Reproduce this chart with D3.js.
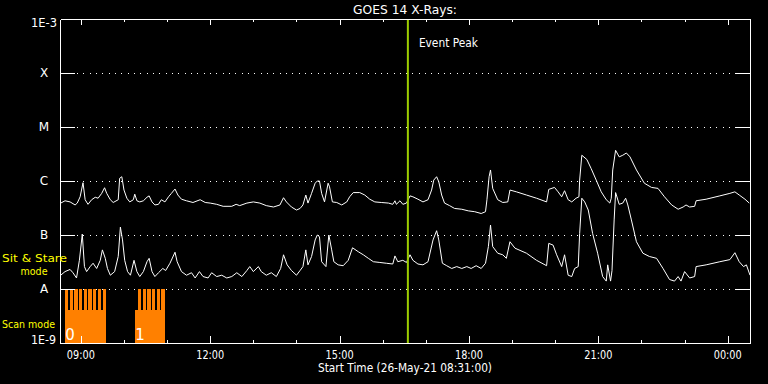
<!DOCTYPE html>
<html>
<head>
<meta charset="utf-8">
<title>GOES 14 X-Rays</title>
<script src="https://cdn.jsdelivr.net/npm/d3@7"></script>
<style>
  body { margin: 0; background: #000; }
  svg { display: block; font-family: 'DejaVu Sans', sans-serif; }
</style>
</head>
<body>
<svg id="chart" width="768" height="384"></svg>
<script>
// start of the plot, everything else is minutes after it
var startTime = new Date(2021, 4, 26, 8, 31, 0);
var spanHours = 16;
var peakMin = 484; // event peak ~16:35

// long channel (upper curve), minutes / W m^-2
var longMin = [1,7,14,21,24,28,32,35,39,44,
  49,53,58,62,65,70,74,81,83,86,
  89,93,97,102,104,107,111,116,121,124,
  128,132,137,141,146,151,155,160,164,169,
  176,185,195,202,209,218,227,239,245,250,
  260,269,278,287,297,306,311,315,322,329,
  334,338,342,345,350,355,358,361,364,368,
  373,375,379,385,392,399,403,408,417,424,
  431,438,447,457,463,466,468,473,477,482,
  487,491,498,505,512,517,520,524,527,531,
  535,542,549,559,568,577,586,592,594,597,
  599,602,609,616,623,626,635,649,663,677,
  680,688,693,698,702,707,712,718,722,723,
  726,733,739,746,753,760,765,767,769,773,
  778,783,788,793,802,813,823,832,841,851,
  860,867,871,876,883,885,899,918,932,939,
  945,953,959];
var longFlux = [3.9e-7,4.3e-7,4.1e-7,3.6e-7,3.9e-7,5.1e-7,9.3e-7,4.5e-7,3.7e-7,4.5e-7,
  5.0e-7,4.8e-7,5.9e-7,7.5e-7,5.9e-7,4.5e-7,4.0e-7,4.5e-7,1.12e-6,1.2e-6,
  6.8e-7,4.8e-7,4.1e-7,4.5e-7,5.7e-7,4.3e-7,4.1e-7,4.3e-7,5.0e-7,5.3e-7,
  4.1e-7,3.6e-7,3.7e-7,4.5e-7,4.1e-7,5.1e-7,5.9e-7,7.1e-7,5.5e-7,4.6e-7,
  4.3e-7,4.0e-7,4.5e-7,4.0e-7,3.9e-7,3.7e-7,3.4e-7,3.4e-7,3.7e-7,3.5e-7,
  3.9e-7,4.1e-7,3.9e-7,3.5e-7,3.3e-7,3.6e-7,4.9e-7,4.1e-7,3.3e-7,2.9e-7,
  3.1e-7,3.6e-7,5.5e-7,3.9e-7,5.9e-7,9.1e-7,1.0e-6,1.0e-6,5.9e-7,4.1e-7,
  9.1e-7,7.8e-7,4.1e-7,4.0e-7,3.6e-7,4.1e-7,5.1e-7,6.1e-7,6.1e-7,5.5e-7,
  4.6e-7,4.1e-7,4.0e-7,3.9e-7,3.7e-7,4.3e-7,3.7e-7,4.3e-7,3.7e-7,3.9e-7,
  5.3e-7,5.1e-7,4.6e-7,4.1e-7,4.5e-7,6.8e-7,1.04e-6,1.2e-6,9.7e-7,5.5e-7,
  3.9e-7,3.5e-7,3.1e-7,3.0e-7,2.8e-7,2.7e-7,2.5e-7,2.7e-7,4.5e-7,1.2e-6,
  1.6e-6,7.3e-7,4.5e-7,4.0e-7,4.1e-7,6.8e-7,6.3e-7,5.5e-7,4.8e-7,4.1e-7,
  7.0e-7,7.6e-7,6.3e-7,5.1e-7,6.6e-7,4.5e-7,4.1e-7,4.8e-7,5.1e-7,1.04e-6,
  3.0e-6,2.5e-6,1.7e-6,1.04e-6,6.3e-7,4.5e-7,3.9e-7,4.8e-7,1.6e-6,3.7e-6,
  2.8e-6,3.0e-6,3.3e-6,2.8e-6,1.6e-6,9.1e-7,7.6e-7,7.3e-7,5.1e-7,3.6e-7,
  3.0e-7,3.3e-7,3.6e-7,3.3e-7,3.4e-7,4.3e-7,4.6e-7,5.3e-7,5.9e-7,6.3e-7,
  5.5e-7,4.6e-7,3.9e-7];

// short channel (lower curve)
var shortMin = [1,7,14,18,23,27,31,34,37,42,
  46,51,56,59,63,66,70,76,81,84,
  87,90,94,98,103,107,111,116,121,124,
  128,132,137,143,147,153,160,163,169,176,
  183,188,194,199,206,211,218,225,232,239,
  246,253,260,264,269,276,280,287,294,301,
  307,311,316,322,329,334,338,342,345,350,
  355,358,361,364,370,374,378,381,387,394,
  401,407,415,422,429,436,445,454,463,466,
  470,477,482,487,491,498,505,512,519,524,
  527,532,538,545,552,559,566,572,579,586,
  592,596,599,602,609,616,621,626,633,649,
  663,677,680,686,691,698,702,707,712,716,
  721,723,726,730,735,741,748,755,760,762,
  766,768,771,773,778,783,787,790,795,802,
  811,820,830,839,848,855,860,864,869,876,
  883,885,899,918,932,939,945,951,955,960];
var shortFlux = [1.8e-8,2.1e-8,2.3e-8,2.0e-8,1.6e-8,3.4e-8,1.04e-7,2.6e-8,2.1e-8,2.6e-8,
  3.0e-8,2.4e-8,3.4e-8,5.3e-8,3.7e-8,2.4e-8,1.8e-8,2.1e-8,4.0e-8,1.4e-7,
  8.1e-8,3.4e-8,2.1e-8,1.8e-8,3.4e-8,2.1e-8,1.7e-8,2.1e-8,3.2e-8,3.7e-8,
  2.1e-8,1.7e-8,2.0e-8,2.4e-8,2.2e-8,3.0e-8,4.8e-8,3.2e-8,2.1e-8,1.8e-8,
  2.0e-8,1.6e-8,2.1e-8,1.7e-8,1.6e-8,2.0e-8,1.7e-8,1.8e-8,1.6e-8,1.7e-8,
  2.0e-8,1.7e-8,2.2e-8,2.6e-8,2.1e-8,2.6e-8,2.1e-8,1.8e-8,2.0e-8,1.7e-8,
  2.4e-8,4.3e-8,2.8e-8,2.2e-8,1.8e-8,2.2e-8,2.6e-8,5.3e-8,2.8e-8,4.0e-8,
  8.1e-8,1.0e-7,9.3e-8,3.2e-8,2.6e-8,1.0e-7,5.3e-8,3.2e-8,2.8e-8,2.7e-8,
  3.4e-8,5.8e-8,4.9e-8,4.3e-8,3.7e-8,3.2e-8,3.1e-8,3.0e-8,2.9e-8,4.1e-8,
  3.2e-8,3.4e-8,3.1e-8,4.3e-8,3.4e-8,2.9e-8,2.8e-8,3.2e-8,8.1e-8,1.2e-7,
  8.1e-8,3.0e-8,2.7e-8,2.4e-8,2.6e-8,2.4e-8,2.6e-8,2.4e-8,2.7e-8,2.4e-8,
  3.0e-8,6.1e-8,1.53e-7,6.1e-8,4.6e-8,4.3e-8,3.7e-8,7.5e-8,5.7e-8,4.6e-8,
  3.4e-8,2.7e-8,7.0e-8,6.5e-8,4.3e-8,2.6e-8,4.3e-8,1.8e-8,1.7e-8,2.4e-8,
  2.6e-8,1.07e-7,4.8e-7,4.1e-7,2.9e-7,1.07e-7,4.6e-8,1.7e-8,1.4e-8,2.8e-8,
  1.4e-8,2.2e-8,1.9e-7,6.1e-7,3.7e-7,3.9e-7,4.8e-7,3.6e-7,1.9e-7,7.5e-8,
  4.6e-8,4.0e-8,3.7e-8,2.4e-8,1.5e-8,1.4e-8,1.7e-8,1.4e-8,2.1e-8,1.6e-8,
  1.7e-8,2.6e-8,2.8e-8,3.2e-8,3.5e-8,4.7e-8,3.2e-8,2.6e-8,2.8e-8,1.8e-8];

// flare classes on the y axis
var classVals = [1e-8, 1e-7, 1e-6, 1e-5, 1e-4];
var classLabels = ["A", "B", "C", "M", "X"];

// scan mode blocks [startMin, endMin] and the individual scans inside them
var scanBlocks = [[7, 63.5], [104.3, 146.4]];
var scanBlockLabels = ["0", "1"];
var scans = [[7,11.5],[13.5,18.1],[19.9,24.6],[26.4,31.0],[32.9,37.5],[39.3,44.0],[45.9,50.5],[52.4,57.4],[59.3,63.5],
  [108.9,113.0],[115.0,119.6],[121.4,126.1],[127.9,132.6],[134.6,139.1],[141.0,146.4]];

function toTime(m) { return new Date(+startTime + m * 60000); }

var svg = d3.select("#chart");
svg.append("rect").attr("width", 768).attr("height", 384).attr("fill", "#000");

var x = d3.scaleTime()
  .domain([startTime, d3.timeHour.offset(startTime, spanHours)])
  .range([60, 750]);
var y = d3.scaleLog().domain([1e-9, 1e-3]).range([343, 19]);
var band = d3.scaleOrdinal().domain(["block", "scan"]).range([310, 289]);

// dotted class lines
svg.append("g").selectAll("line")
  .data(classVals)
  .enter().append("line")
  .attr("x1", 77).attr("x2", 736)
  .attr("y1", d => Math.round(y(d)) + 0.5)
  .attr("y2", d => Math.round(y(d)) + 0.5)
  .attr("stroke", "#fff")
  .attr("stroke-dasharray", "1,5.33")
  .attr("shape-rendering", "crispEdges");

// scan mode bars
var modeG = svg.append("g").attr("fill", "#ff8000").attr("shape-rendering", "crispEdges");
modeG.selectAll("rect.blk")
  .data(scanBlocks)
  .enter().append("rect").attr("class", "blk")
  .attr("x", d => x(toTime(d[0])))
  .attr("width", d => x(toTime(d[1])) - x(toTime(d[0])))
  .attr("y", band("block"))
  .attr("height", y(1e-9) - band("block"));
modeG.selectAll("rect.scn")
  .data(scans)
  .enter().append("rect").attr("class", "scn")
  .attr("x", d => x(toTime(d[0])))
  .attr("width", d => x(toTime(d[1])) - x(toTime(d[0])))
  .attr("y", band("scan"))
  .attr("height", y(1e-9) - band("scan"));
svg.append("g").selectAll("text")
  .data(scanBlocks)
  .enter().append("text")
  .attr("x", d => x(toTime(d[0])) + 5)
  .attr("y", 339.5)
  .attr("text-anchor", "middle")
  .attr("font-size", 15)
  .attr("fill", "#fff")
  .text((d, i) => scanBlockLabels[i]);

// the two flux curves
var line = d3.line().x(d => x(d.t)).y(d => y(d.v));
var longData = longMin.map((m, i) => ({ t: toTime(m), v: longFlux[i] }));
var shortData = shortMin.map((m, i) => ({ t: toTime(m), v: shortFlux[i] }));
[longData, shortData].forEach(function (ser) {
  svg.append("path")
    .datum(ser)
    .attr("d", line)
    .attr("fill", "none")
    .attr("stroke", "#fff")
    .attr("stroke-width", 1)
    .attr("stroke-linejoin", "round");
});

// event peak marker
var px = x(toTime(peakMin));
svg.append("line")
  .attr("x1", px).attr("x2", px)
  .attr("y1", y(1e-3)).attr("y2", y(1e-9))
  .attr("stroke", "#9ccc00").attr("stroke-width", 2);

// axes, ticks pointing inwards
function styleAxis(g) {
  g.attr("color", "#fff").attr("shape-rendering", "crispEdges");
  g.selectAll("text").remove();
}
svg.append("g").attr("transform", "translate(0,343)")
  .call(d3.axisBottom(x).ticks(d3.timeHour.every(1)).tickSize(-3).tickSizeOuter(0).tickFormat(""))
  .call(styleAxis);
svg.append("g").attr("transform", "translate(0,343)")
  .call(d3.axisBottom(x).ticks(d3.timeHour.every(3)).tickSize(-7).tickSizeOuter(0).tickFormat(""))
  .call(styleAxis);
svg.append("g").attr("transform", "translate(0,19)")
  .call(d3.axisTop(x).ticks(d3.timeHour.every(1)).tickSize(-3).tickSizeOuter(0).tickFormat(""))
  .call(styleAxis);
svg.append("g").attr("transform", "translate(0,19)")
  .call(d3.axisTop(x).ticks(d3.timeHour.every(3)).tickSize(-6).tickSizeOuter(0).tickFormat(""))
  .call(styleAxis);
svg.append("g").attr("transform", "translate(60,0)")
  .call(d3.axisLeft(y).tickValues(classVals).tickSize(-15).tickSizeOuter(0).tickFormat(""))
  .call(styleAxis);
svg.append("g").attr("transform", "translate(750,0)")
  .call(d3.axisRight(y).tickValues(classVals).tickSize(-14).tickSizeOuter(0).tickFormat(""))
  .call(styleAxis);

// text helper, stretched to the widths of the vector font
function label(str, tx, ty, len, anchor, color, size) {
  var t = svg.append("text")
    .attr("x", tx).attr("y", ty)
    .attr("font-size", size || 12)
    .attr("fill", color || "#fff")
    .attr("text-anchor", anchor || "start")
    .text(str);
  if (len) t.attr("textLength", len).attr("lengthAdjust", "spacingAndGlyphs");
  return t;
}

// time labels
var fmt = d3.timeFormat("%H:%M");
x.ticks(d3.timeHour.every(3)).forEach(function (d) {
  label(fmt(d), x(d), 358.5, 28, "middle");
});

classVals.forEach(function (v, i) {
  label(classLabels[i], 44, y(v) + 4, null, "middle");
});
label("1E-3", 57, 27, 26, "end");
label("1E-9", 56, 343.5, 25, "end");

label("GOES 14 X-Rays:", 405, 13.5, 104, "middle");
label("Start Time (26-May-21 08:31:00)", 405, 372, 174, "middle");
label("Event Peak", px + 11, 47, 59);

label("Sit & Stare", 2, 262, 65, "start", "#ffff00", 11);
label("mode", 34, 275, 27, "middle", "#ffff00", 11);
label("Scan mode", 2, 327.5, 53, "start", "#ffff00", 11);
</script>
</body>
</html>
